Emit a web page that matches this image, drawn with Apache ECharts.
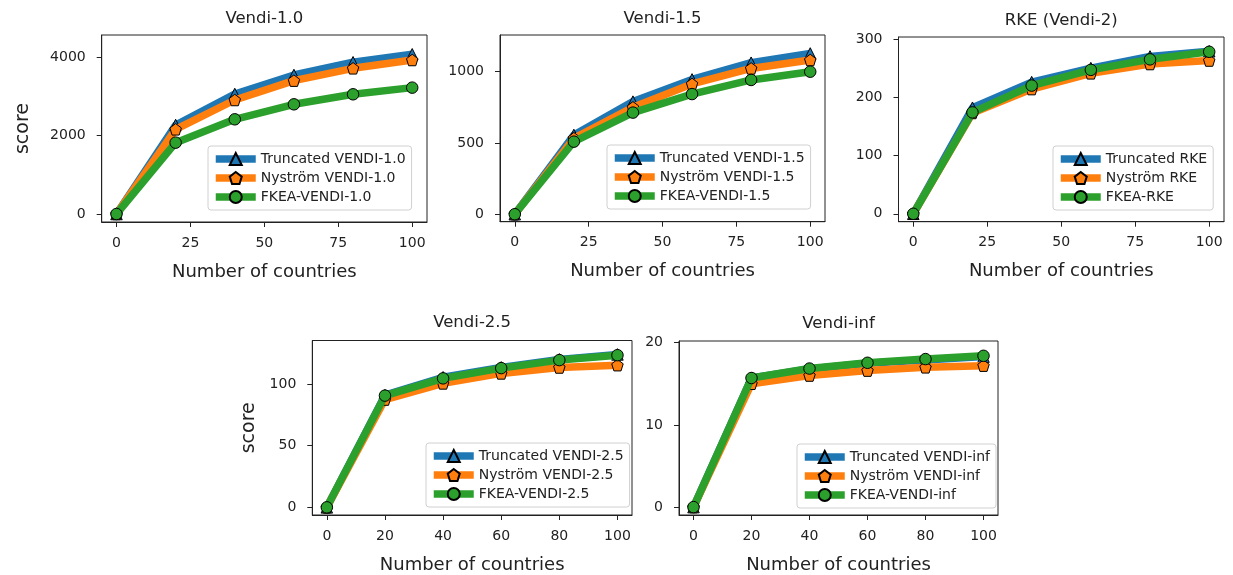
<!DOCTYPE html>
<html>
<head>
<meta charset="utf-8">
<script src="https://cdn.jsdelivr.net/npm/echarts@6/dist/echarts.min.js"></script>
<style>
html,body{margin:0;padding:0;background:#fff;}
#chart{width:1233px;height:575px;}
</style>
</head>
<body>
<div id="chart"></div>
<script>
// ---- data ----
const countries = [0, 20, 40, 60, 80, 100];
const topXTicks = [0, 25, 50, 75, 100];
const bottomXTicks = [0, 20, 40, 60, 80, 100];

const titles = ['Vendi-1.0', 'Vendi-1.5', 'RKE (Vendi-2)', 'Vendi-2.5', 'Vendi-inf'];

const v10Truncated = [0, 2267, 3057, 3541, 3865, 4068];
const v10Nystrom   = [0, 2157, 2904, 3397, 3711, 3923];
const v10Fkea      = [0, 1817, 2412, 2794, 3049, 3219];
const v10YTicks = [0, 2000, 4000];

const v15Truncated = [0, 556, 790, 946, 1063, 1128];
const v15Nystrom   = [0, 533, 750, 914, 1023, 1082];
const v15Fkea      = [0, 509, 713, 843, 942, 1000];
const v15YTicks = [0, 500, 1000];

const rkeTruncated = [0, 182, 226, 250, 270, 279];
const rkeNystrom   = [0, 173, 214, 241, 257, 263];
const rkeFkea      = [0, 174, 220, 247, 265, 278];
const rkeYTicks = [0, 100, 200, 300];

const v25Truncated = [0, 91, 105.5, 113.5, 120, 124];
const v25Nystrom   = [0, 87.4, 100.5, 108.6, 113.4, 115.3];
const v25Fkea      = [0, 90.6, 104.6, 112.9, 119.4, 123.4];
const v25YTicks = [0, 50, 100];

const vinfTruncated = [0, 15.7, 16.8, 17.5, 17.9, 18.3];
const vinfNystrom   = [0, 15.0, 16.0, 16.6, 17.0, 17.2];
const vinfFkea      = [0, 15.7, 16.85, 17.55, 18.0, 18.4];
const vinfYTicks = [0, 10, 20];

const legendNames = [
  ['Truncated VENDI-1.0', 'Nyström VENDI-1.0', 'FKEA-VENDI-1.0'],
  ['Truncated VENDI-1.5', 'Nyström VENDI-1.5', 'FKEA-VENDI-1.5'],
  ['Truncated RKE', 'Nyström RKE', 'FKEA-RKE'],
  ['Truncated VENDI-2.5', 'Nyström VENDI-2.5', 'FKEA-VENDI-2.5'],
  ['Truncated VENDI-inf', 'Nyström VENDI-inf', 'FKEA-VENDI-inf']
];

// ---- layout / style ----
const FONT = 'DejaVu Sans';
const TXT = '#222';
const colors = ['#1f77b4', '#ff7f0e', '#2ca02c'];
const pentagon = 'path://M0,-1 L0.951,-0.309 L0.588,0.809 L-0.588,0.809 L-0.951,-0.309 Z';
const symbols = ['triangle', pentagon, 'circle'];

const panels = [
  {grid:{left:101.7, top:35, width:325.3, height:187}, y:[-204, 4560], yt:v10YTicks, xt:topXTicks,
   s:[v10Truncated, v10Nystrom, v10Fkea], lg:{left:208, top:146}, ylab:true, yGap:69},
  {grid:{left:500, top:35, width:325, height:186.7}, y:[-52.6, 1257.5], yt:v15YTicks, xt:topXTicks,
   s:[v15Truncated, v15Nystrom, v15Fkea], lg:{left:607, top:145}, ylab:false},
  {grid:{left:898.5, top:37, width:325.5, height:184.7}, y:[-13.6, 303.4], yt:rkeYTicks, xt:topXTicks,
   s:[rkeTruncated, rkeNystrom, rkeFkea], lg:{left:1053, top:146}, ylab:false},
  {grid:{left:312.3, top:340.5, width:319.7, height:176.2}, y:[-6.2, 135.3], yt:v25YTicks, xt:bottomXTicks,
   s:[v25Truncated, v25Nystrom, v25Fkea], lg:{left:426, top:443}, ylab:true, yGap:54},
  {grid:{left:679, top:341, width:319, height:175.7}, y:[-0.96, 20.2], yt:vinfYTicks, xt:bottomXTicks,
   s:[vinfTruncated, vinfNystrom, vinfFkea], lg:{left:797, top:444}, ylab:false}
];

const plain = v => String(v);
const grids = [], xAxes = [], yAxes = [], series = [], legends = [], titleComps = [];

panels.forEach((p, i) => {
  grids.push(Object.assign({show:true, borderColor:'#222', borderWidth:1, backgroundColor:'#fff'}, p.grid));
  xAxes.push({
    type:'value', gridIndex:i, min:-5, max:105,
    axisLine:{show:true, onZero:false, lineStyle:{color:'#222', width:1}},
    axisTick:{show:true, length:5, customValues:p.xt, lineStyle:{color:'#222'}},
    axisLabel:{customValues:p.xt, formatter:plain, margin:14, fontSize:14, fontFamily:FONT, color:TXT},
    splitLine:{show:false},
    name:'Number of countries', nameLocation:'middle', nameGap:41,
    nameTextStyle:{fontSize:18, fontFamily:FONT, color:TXT}
  });
  yAxes.push({
    type:'value', gridIndex:i, min:p.y[0], max:p.y[1],
    axisLine:{show:true, onZero:false, lineStyle:{color:'#222', width:1}},
    axisTick:{show:true, length:5, customValues:p.yt, lineStyle:{color:'#222'}},
    axisLabel:{customValues:p.yt, formatter:plain, margin:16, fontSize:14, fontFamily:FONT, color:TXT},
    splitLine:{show:false},
    name: p.ylab ? 'score' : '', nameLocation:'middle', nameGap:p.yGap || 50, nameRotate:90,
    nameTextStyle:{fontSize:19, fontFamily:FONT, color:TXT}
  });
  p.s.forEach((vals, k) => {
    series.push({
      type:'line', name:legendNames[i][k], xAxisIndex:i, yAxisIndex:i,
      data: countries.map((c, j) => [c, vals[j]]),
      symbol:symbols[k], symbolSize:11.5, showSymbol:true,
      lineStyle:{color:colors[k], width:7.5},
      itemStyle:{color:colors[k], borderColor:'#000', borderWidth:1},
      emphasis:{disabled:true}, animation:false, z:2 + k
    });
  });
  legends.push({
    orient:'vertical', left:p.lg.left, top:p.lg.top,
    itemWidth:40, itemHeight:15, itemGap:5, padding:[6,6,6,4],
    backgroundColor:'rgba(255,255,255,0.85)', borderColor:'#d0d0d0', borderWidth:1, borderRadius:3,
    textStyle:{fontSize:14, fontFamily:FONT, color:TXT},
    lineStyle:{width:7.5}, selectedMode:false,
    data: legendNames[i]
  });
  const cx = p.grid.left + p.grid.width / 2;
  titleComps.push({
    text: titles[i], left: cx, top: p.grid.top - (i < 3 ? 25 : 26), textAlign:'center', padding:0,
    textStyle:{fontSize:16.5, fontWeight:'normal', fontFamily:FONT, color:TXT}
  });
});

const chart = echarts.init(document.getElementById('chart'), null, {renderer:'canvas'});
chart.setOption({
  animation:false,
  backgroundColor:'#fff',
  title: titleComps,
  grid: grids, xAxis: xAxes, yAxis: yAxes,
  legend: legends,
  series: series
});
</script>
</body>
</html>
